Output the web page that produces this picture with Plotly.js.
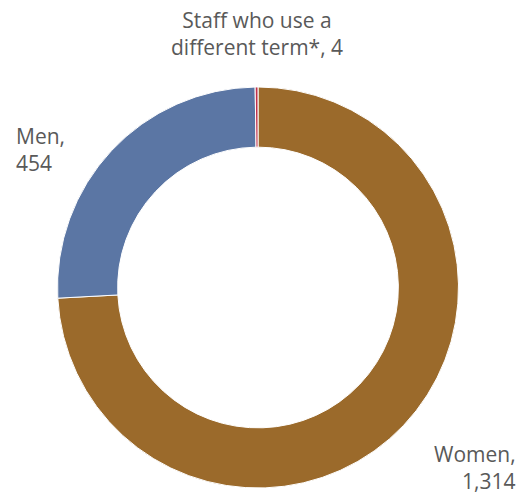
<!DOCTYPE html>
<html>
<head>
<meta charset="utf-8">
<script src="https://cdn.plot.ly/plotly-3.0.1.min.js"></script>
<style>html,body{margin:0;padding:0;background:#fff;}#chart{width:528px;height:496px;}</style>
</head>
<body>
<div id="chart"></div>
<script>
var categories = ["Women", "Men", "Staff who use a different term*"];
var values = [1314, 454, 4];
var labelLines = [["Women,", "1,314"], ["Men,", "454"], ["Staff who use a", "different term*, 4"]];
var colors = ["#9B6A2B", "#5B76A4", "#C0304A"];

var labelPos = [
  {x: 0.981, y: 1 - 467/496, xanchor: "right", align: "right"},
  {x: 0.026, y: 1 - 149/496, xanchor: "left", align: "left"},
  {x: 0.487, y: 1 - 33/496, xanchor: "center", align: "center"}
];

var trace = {
  type: "pie",
  labels: categories,
  values: values,
  hole: 0.70,
  sort: false,
  direction: "clockwise",
  rotation: 0,
  textinfo: "none",
  hoverinfo: "label+value",
  marker: {colors: colors, line: {color: "#ffffff", width: 1}},
  domain: {x: [0.1089, 0.8684], y: [0.0161, 0.8246]},
  showlegend: false
};

var annotations = labelLines.map(function (lines, i) {
  return {
    text: lines.join("<br>"),
    xref: "paper", yref: "paper",
    x: labelPos[i].x, y: labelPos[i].y,
    xanchor: labelPos[i].xanchor, yanchor: "middle",
    align: labelPos[i].align,
    showarrow: false,
    font: {family: "Open Sans, sans-serif", size: 21, color: "#595959"}
  };
});

var layout = {
  width: 528, height: 496,
  margin: {l: 0, r: 0, t: 0, b: 0},
  paper_bgcolor: "#ffffff",
  annotations: annotations
};

Plotly.newPlot("chart", [trace], layout, {displayModeBar: false, staticPlot: true});
</script>
</body>
</html>
